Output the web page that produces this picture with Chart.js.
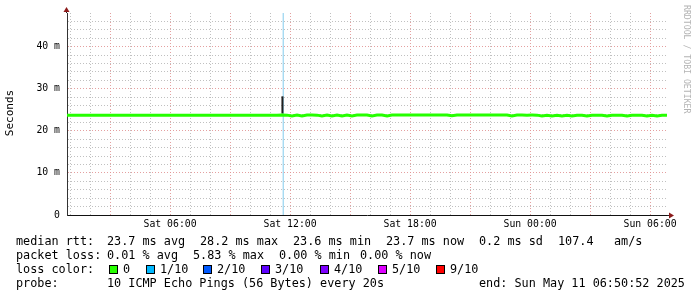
<!DOCTYPE html>
<html>
<head>
<meta charset="utf-8">
<script src="https://cdn.jsdelivr.net/npm/chart.js@4.4.0/dist/chart.umd.min.js"></script>
<style>
html, body { margin: 0; padding: 0; background: #fff; }
canvas { display: block; }
</style>
</head>
<body>
<canvas id="rtt" width="697" height="297"></canvas>
<script>
// x axis runs in hours since Sat 00:00
const startHour = 0.848;
const endHour = 30.848;
const sampleStep = 0.25;

// median rtt in ms, one value per 15 min
const medianRtt = [
    23.70, 23.70, 23.70, 23.70, 23.70, 23.70, 23.70, 23.70, 23.70, 23.70,
    23.70, 23.70, 23.70, 23.70, 23.70, 23.70, 23.70, 23.70, 23.70, 23.70,
    23.70, 23.70, 23.70, 23.70, 23.70, 23.70, 23.70, 23.70, 23.70, 23.70,
    23.70, 23.70, 23.70, 23.70, 23.70, 23.70, 23.70, 23.70, 23.70, 23.70,
    23.70, 23.70, 23.70, 23.75, 23.73, 23.55, 23.73, 23.52, 23.74, 23.74,
    23.73, 23.55, 23.74, 23.54, 23.73, 23.52, 23.74, 23.55, 23.74, 23.75,
    23.74, 23.55, 23.74, 23.74, 23.53, 23.75, 23.75, 23.75, 23.76, 23.75,
    23.75, 23.76, 23.75, 23.75, 23.75, 23.76, 23.75, 23.56, 23.76, 23.76,
    23.76, 23.75, 23.76, 23.76, 23.75, 23.76, 23.75, 23.75, 23.74, 23.55,
    23.74, 23.74, 23.73, 23.74, 23.73, 23.52, 23.72, 23.54, 23.72, 23.53,
    23.72, 23.55, 23.72, 23.72, 23.54, 23.72, 23.72, 23.72, 23.53, 23.72,
    23.72, 23.72, 23.54, 23.72, 23.72, 23.72, 23.53, 23.72, 23.55, 23.72,
    23.70
];

// smoke spike (max ping) and loss marker
const spikeHour = 11.62;
const spikeRange = [24.1, 28.2];
const lossMarkHour = 11.66;
const lossMarkRange = [0, 48];

const yMax = 48;
const yTickValues = [0, 2, 4, 6, 8, 10, 12, 14, 16, 18, 20, 22, 24, 26, 28, 30, 32, 34, 36, 38, 40, 42, 44, 46];
const xTickHours = [1, 2, 3, 4, 5, 6, 7, 8, 9, 10, 11, 12, 13, 14, 15, 16, 17, 18, 19, 20, 21, 22, 23, 24, 25, 26, 27, 28, 29, 30];
const dayNames = ['Sat', 'Sun'];

const rttRow = [
    ['median rtt:', 16], ['23.7 ms avg', 107], ['28.2 ms max', 200], ['23.6 ms min', 293],
    ['23.7 ms now', 386], ['0.2 ms sd', 479], ['107.4', 558], ['am/s', 614]
];
const lossRow = [
    ['packet loss:', 16], ['0.01 % avg', 107], ['5.83 % max', 193], ['0.00 % min', 279], ['0.00 % now', 360]
];
const lossLabels = ['0', '1/10', '2/10', '3/10', '4/10', '5/10', '9/10'];
const lossColors = ['#26ff00', '#00b8ff', '#0059ff', '#5e00ff', '#7e00ff', '#dd00ff', '#ff0000'];
const lossSwatchX = [109, 146, 203, 261, 320, 378, 436];
const probeRow = [
    ['probe:', 16], ['10 ICMP Echo Pings (56 Bytes) every 20s', 107], ['end: Sun May 11 06:50:52 2025', 479]
];

const MONO = '"DejaVu Sans Mono", "Liberation Mono", monospace';

const medianPoints = medianRtt.map((v, i) => ({ x: startHour + i * sampleStep, y: v }));

const decorPlugin = {
    id: 'decor',
    afterDraw(chart) {
        const ctx = chart.ctx;
        const a = chart.chartArea;
        ctx.save();

        // axis extensions and arrows
        ctx.strokeStyle = '#222';
        ctx.lineWidth = 1;
        ctx.beginPath();
        ctx.moveTo(a.left - 0.5, a.top);
        ctx.lineTo(a.left - 0.5, 10);
        ctx.moveTo(a.right, a.bottom + 0.5);
        ctx.lineTo(a.right + 4, a.bottom + 0.5);
        ctx.stroke();
        ctx.fillStyle = '#8b1a1a';
        ctx.beginPath();
        ctx.moveTo(a.left - 3.5, 12);
        ctx.lineTo(a.left + 2.5, 12);
        ctx.lineTo(a.left - 0.5, 7);
        ctx.closePath();
        ctx.fill();
        ctx.beginPath();
        ctx.moveTo(a.right + 2, a.bottom - 2.5);
        ctx.lineTo(a.right + 2, a.bottom + 3.5);
        ctx.lineTo(a.right + 7, a.bottom + 0.5);
        ctx.closePath();
        ctx.fill();

        // y title
        ctx.fillStyle = '#000';
        ctx.font = '11px ' + MONO;
        ctx.textAlign = 'center';
        ctx.textBaseline = 'middle';
        ctx.save();
        ctx.translate(10, 113);
        ctx.rotate(-Math.PI / 2);
        ctx.fillText('Seconds', 0, 0);
        ctx.restore();

        // watermark
        ctx.save();
        ctx.fillStyle = '#b4b4b4';
        ctx.font = '8.2px ' + MONO;
        ctx.textAlign = 'left';
        ctx.translate(686, 5);
        ctx.rotate(Math.PI / 2);
        ctx.fillText('RRDTOOL / TOBI OETIKER', 0, 0);
        ctx.restore();

        // legend rows
        ctx.font = '11.8px ' + MONO;
        ctx.textAlign = 'left';
        ctx.textBaseline = 'alphabetic';
        ctx.fillStyle = '#000';
        rttRow.forEach(([t, x]) => ctx.fillText(t, x, 245));
        lossRow.forEach(([t, x]) => ctx.fillText(t, x, 259));
        ctx.fillText('loss color:', 16, 273);
        lossLabels.forEach((t, i) => {
            const x = lossSwatchX[i];
            ctx.fillStyle = lossColors[i];
            ctx.fillRect(x, 265, 8, 8);
            ctx.strokeStyle = '#000';
            ctx.strokeRect(x + 0.5, 265.5, 8, 8);
            ctx.fillStyle = '#000';
            ctx.fillText(t, x + 14, 273);
        });
        probeRow.forEach(([t, x]) => ctx.fillText(t, x, 287));
        ctx.restore();
    }
};

new Chart('rtt', {
    type: 'line',
    data: {
        datasets: [
            {
                label: 'median rtt',
                data: medianPoints,
                borderColor: lossColors[0],
                borderWidth: 3,
                pointRadius: 0,
                tension: 0
            },
            {
                label: 'max',
                data: [{ x: spikeHour, y: spikeRange[0] }, { x: spikeHour, y: spikeRange[1] }],
                borderColor: '#202020',
                borderWidth: 2,
                pointRadius: 0
            },
            {
                label: 'loss',
                data: [{ x: lossMarkHour, y: lossMarkRange[0] }, { x: lossMarkHour, y: lossMarkRange[1] }],
                borderColor: '#98d4f0',
                borderWidth: 1.2,
                pointRadius: 0
            }
        ]
    },
    options: {
        responsive: false,
        animation: false,
        events: [],
        layout: { padding: { left: 0, right: 30, top: 13, bottom: 62 } },
        plugins: { legend: { display: false }, tooltip: { enabled: false } },
        scales: {
            x: {
                type: 'linear',
                min: startHour,
                max: endHour,
                afterBuildTicks: s => { s.ticks = xTickHours.map(h => ({ value: h })); },
                afterFit: s => { s.height = 20; },
                ticks: {
                    autoSkip: false,
                    maxRotation: 0,
                    padding: 4,
                    color: '#000',
                    font: { family: MONO, size: 9.8 },
                    callback: v => {
                        if (v % 6 !== 0) return '';
                        const hh = String(v % 24).padStart(2, '0');
                        return dayNames[Math.floor(v / 24)] + ' ' + hh + ':00';
                    }
                },
                grid: {
                    drawTicks: false,
                    color: c => (c.tick && c.tick.value % 3 === 0) ? 'rgba(225,150,150,0.9)' : 'rgba(185,185,185,0.9)'
                },
                border: { color: '#111', width: 1, dash: [1, 2] }
            },
            y: {
                min: 0,
                max: yMax,
                afterBuildTicks: s => { s.ticks = yTickValues.map(v => ({ value: v })); },
                afterFit: s => { s.width = 67; },
                ticks: {
                    autoSkip: false,
                    padding: 7,
                    color: '#000',
                    font: { family: MONO, size: 9.8 },
                    callback: v => v === 0 ? '0' : (v % 10 === 0 ? v + ' m' : '')
                },
                grid: {
                    drawTicks: false,
                    color: c => (c.tick && c.tick.value % 10 === 0) ? 'rgba(225,150,150,0.9)' : 'rgba(185,185,185,0.9)'
                },
                border: { color: '#333', width: 1, dash: [1, 2] }
            }
        }
    },
    plugins: [decorPlugin]
});
</script>
</body>
</html>
